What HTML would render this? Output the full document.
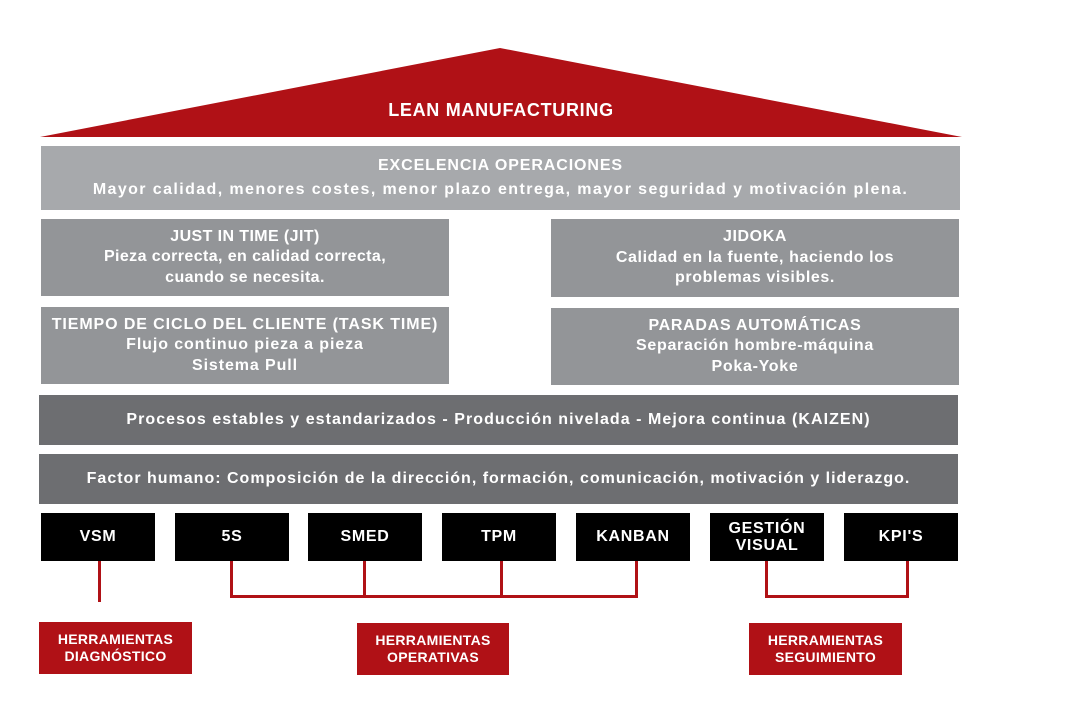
<!DOCTYPE html>
<html><head><meta charset="utf-8"><style>
body{margin:0;width:1075px;height:716px;background:#fff;position:relative;overflow:hidden;font-family:"Liberation Sans",sans-serif;font-weight:bold;color:#fff}
.b{position:absolute;display:flex;flex-direction:column;align-items:center;justify-content:center;text-align:center;font-size:16px;line-height:20.5px;letter-spacing:0.7px;white-space:nowrap}
.g1{background:#a7a9ac}.g2{background:#939598}.g3{background:#6d6e71}.k{background:#000}.r{background:#b01116;font-size:14px;line-height:17px;letter-spacing:0.3px}
.l{position:absolute;background:#b01116}
</style></head><body>
<svg style="position:absolute;left:0;top:0" width="1075" height="716"><polygon points="40,137 500,48 962,137" fill="#b01116"/></svg>
<div class="b" style="left:40px;top:95px;width:922px;height:30px;font-size:18px;letter-spacing:0.7px">LEAN MANUFACTURING</div>
<div class="b g1" style="left:41px;top:146px;width:919px;height:64px;line-height:24px"><div style="letter-spacing:0.9px">EXCELENCIA OPERACIONES</div><div style="letter-spacing:1.4px">Mayor calidad, menores costes, menor plazo entrega, mayor seguridad y motivación plena.</div></div>
<div class="b g2" style="left:41px;top:219px;width:408px;height:77px;letter-spacing:0.4px"><div>JUST IN TIME (JIT)</div><div>Pieza correcta, en calidad correcta,</div><div>cuando se necesita.</div></div>
<div class="b g2" style="left:551px;top:219px;width:408px;height:78px;letter-spacing:0.6px"><div>JIDOKA</div><div>Calidad en la fuente, haciendo los</div><div>problemas visibles.</div></div>
<div class="b g2" style="left:41px;top:307px;width:408px;height:77px;letter-spacing:0.9px"><div>TIEMPO DE CICLO DEL CLIENTE (TASK TIME)</div><div>Flujo continuo pieza a pieza</div><div>Sistema Pull</div></div>
<div class="b g2" style="left:551px;top:308px;width:408px;height:77px"><div>PARADAS AUTOMÁTICAS</div><div>Separación hombre-máquina</div><div>Poka-Yoke</div></div>
<div class="b g3" style="left:39px;top:395px;width:919px;height:50px;letter-spacing:1.05px">Procesos estables y estandarizados - Producción nivelada - Mejora continua (KAIZEN)</div>
<div class="b g3" style="left:39px;top:454px;width:919px;height:50px;letter-spacing:1.0px">Factor humano: Composición de la dirección, formación, comunicación, motivación y liderazgo.</div>
<div class="b k" style="left:41px;top:513px;width:114px;height:48px">VSM</div>
<div class="b k" style="left:175px;top:513px;width:114px;height:48px">5S</div>
<div class="b k" style="left:308px;top:513px;width:114px;height:48px">SMED</div>
<div class="b k" style="left:442px;top:513px;width:114px;height:48px">TPM</div>
<div class="b k" style="left:576px;top:513px;width:114px;height:48px">KANBAN</div>
<div class="b k" style="left:710px;top:513px;width:114px;height:48px;line-height:17px"><div>GESTIÓN</div><div>VISUAL</div></div>
<div class="b k" style="left:844px;top:513px;width:114px;height:48px">KPI'S</div>
<div class="l" style="left:98px;top:561px;width:3px;height:41px"></div>
<div class="l" style="left:230px;top:561px;width:3px;height:37px"></div>
<div class="l" style="left:363px;top:561px;width:3px;height:37px"></div>
<div class="l" style="left:500px;top:561px;width:3px;height:37px"></div>
<div class="l" style="left:635px;top:561px;width:3px;height:37px"></div>
<div class="l" style="left:230px;top:595px;width:408px;height:3px"></div>
<div class="l" style="left:765px;top:561px;width:3px;height:37px"></div>
<div class="l" style="left:906px;top:561px;width:3px;height:37px"></div>
<div class="l" style="left:765px;top:595px;width:144px;height:3px"></div>
<div class="b r" style="left:39px;top:622px;width:153px;height:52px"><div>HERRAMIENTAS</div><div>DIAGNÓSTICO</div></div>
<div class="b r" style="left:357px;top:623px;width:152px;height:52px"><div>HERRAMIENTAS</div><div>OPERATIVAS</div></div>
<div class="b r" style="left:749px;top:623px;width:153px;height:52px"><div>HERRAMIENTAS</div><div>SEGUIMIENTO</div></div>
</body></html>
